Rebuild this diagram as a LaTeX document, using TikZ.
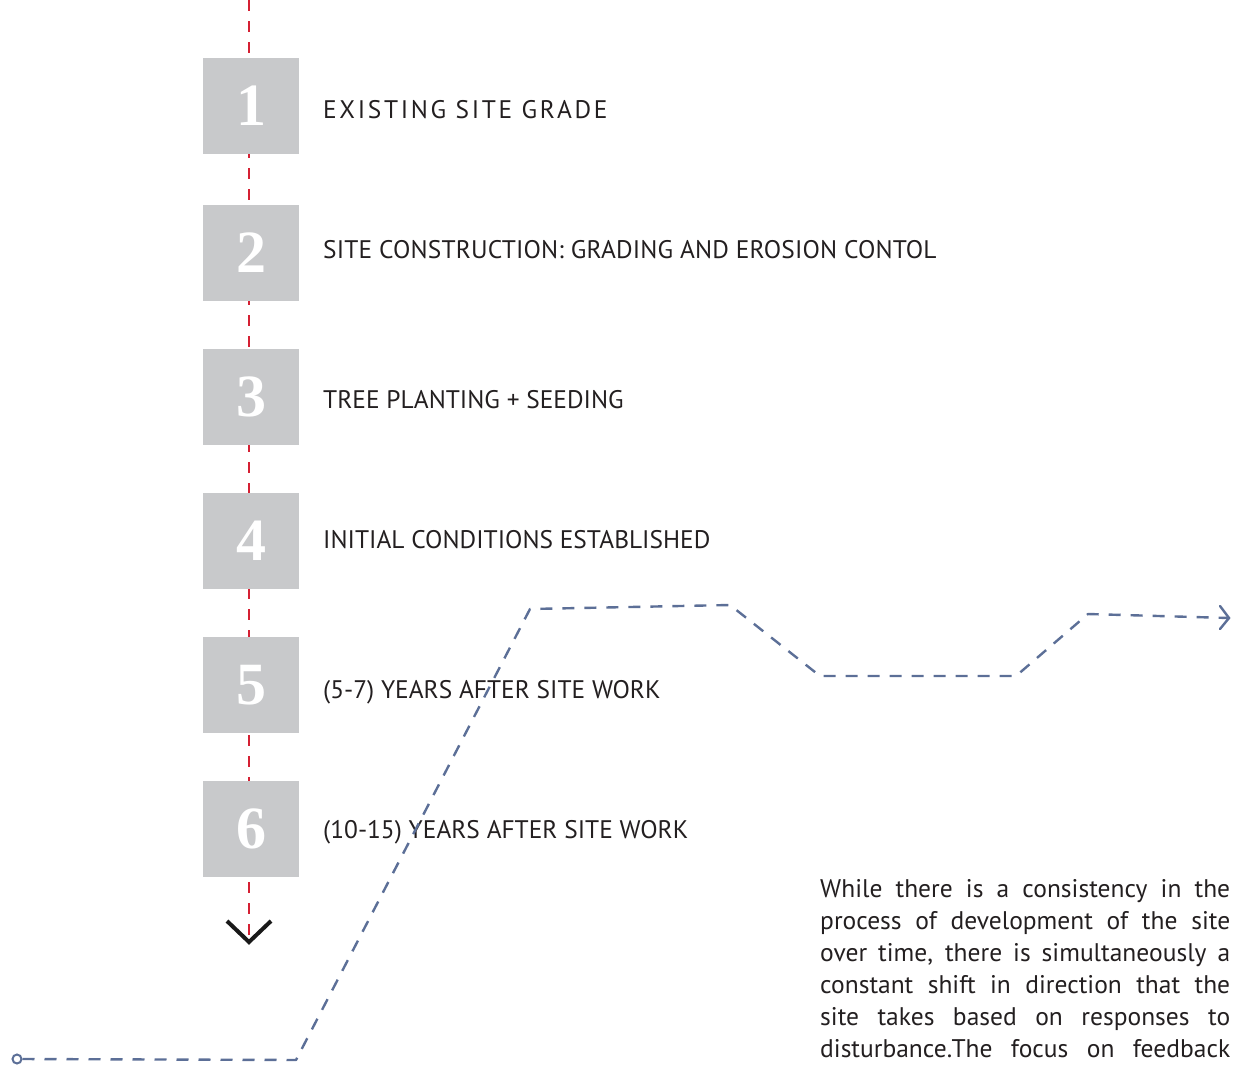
\documentclass[tikz,border=0pt]{standalone}
\usepackage{fontspec}
\setmainfont{PT Sans}
\newfontfamily\numfont{Liberation Serif}
\usetikzlibrary{arrows.meta,calc}
\definecolor{boxgray}{HTML}{C8C9CB}
\definecolor{redline}{HTML}{D52033}
\definecolor{blueline}{HTML}{5C6F97}
\definecolor{textdark}{HTML}{231F20}
\tikzset{
  stepbox/.style={fill=boxgray, minimum width=96pt, minimum height=96pt, inner sep=0pt,
    font=\numfont\bfseries\fontsize{60}{60}\selectfont, text=white},
  steplabel/.style={anchor=base west, inner sep=0pt, font=\fontsize{25.4}{30}\selectfont, text=textdark},
  reddash/.style={redline, line width=2.6pt, dash pattern=on 11pt off 10pt},
  bluedash/.style={blueline, line width=2.4pt, dash pattern=on 12pt off 10pt, line join=round},
}
\begin{document}
\begin{tikzpicture}[x=1pt,y=-1pt]
\useasboundingbox (0,0) rectangle (1237,1066);
% red timeline
\coordinate (rtop) at (249,0);
\coordinate (rbot) at (249,938);
\draw[reddash] (rtop) -- (rbot);
% step boxes
\node[stepbox] (s1) at (251,106) {1};
\node[stepbox] (s2) at (251,253) {2};
\node[stepbox] (s3) at (251,397) {3};
\node[stepbox] (s4) at (251,541) {4};
\node[stepbox] (s5) at (251,685) {5};
\node[stepbox] (s6) at (251,829) {6};
% labels
\node[steplabel] (l1) at (323,118) {\addfontfeature{LetterSpace=10.5}EXISTING SITE GRADE};
\node[steplabel] (l2) at (323,258) {\addfontfeature{LetterSpace=0.6}SITE CONSTRUCTION: GRADING AND EROSION CONTOL};
\node[steplabel] (l3) at (323,408) {TREE PLANTING + SEEDING};
\node[steplabel] (l4) at (323,548) {INITIAL CONDITIONS ESTABLISHED};
\node[steplabel] (l5) at (323,698) {(5-7) YEARS AFTER SITE WORK};
\node[steplabel] (l6) at (323,838) {(10-15) YEARS AFTER SITE WORK};
% black chevron
\coordinate (cl) at (227,921);
\coordinate (ct) at (249,942);
\coordinate (cr) at (271,921);
\draw[black!90, line width=4pt] (cl) -- (ct) -- (cr);
% blue path
\node[circle, draw=blueline, line width=2pt, minimum size=9pt, inner sep=0pt] (b0) at (17,1059) {};
\coordinate (b1) at (296,1060);
\coordinate (b2) at (530,609);
\coordinate (b3) at (730,605);
\coordinate (b4) at (820,676);
\coordinate (b5) at (1016,676);
\coordinate (b6) at (1088,614);
\coordinate (b7) at (1229,618);
\draw[bluedash] (b0.east) -- (b1) -- (b2) -- (b3) -- (b4) -- (b5) -- (b6) -- (b7);
\draw[blueline, line width=2.4pt, line cap=round] ($(b7)+(-9,-12)$) -- (b7) -- ($(b7)+(-9,11)$);
% paragraph
\node[anchor=north west, inner sep=0pt, text width=410pt, align=justify,
  font=\fontsize{25.5}{32}\selectfont, text=textdark] (para) at (820,879)
{While there is a consistency in the\linebreak process of development of the site\linebreak over time, there is simultaneously a\linebreak constant shift in direction that the\linebreak site takes based on responses to\linebreak disturbance.The focus on feedback\parfillskip=0pt\par};
\end{tikzpicture}
\end{document}
